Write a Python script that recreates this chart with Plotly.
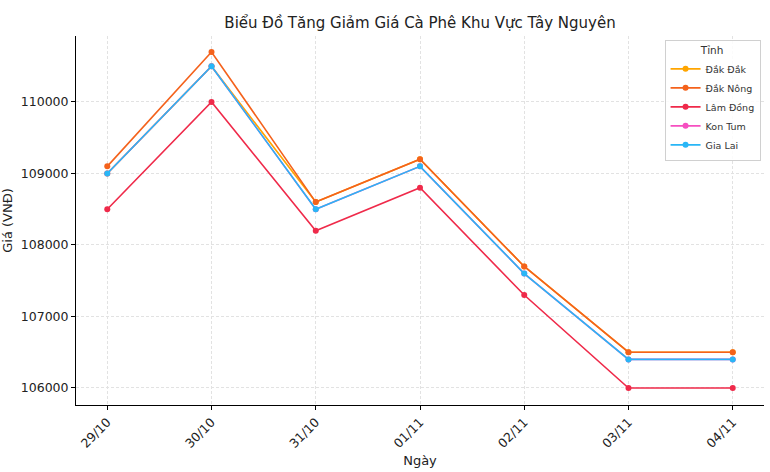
import plotly.graph_objects as go

dates = ["29/10", "30/10", "31/10", "01/11", "02/11", "03/11", "04/11"]
dak_dak = [109000, 110500, 108600, 109200, 107700, 106500, 106500]
dak_nong = [109100, 110700, 108600, 109200, 107700, 106500, 106500]
lam_dong = [108500, 110000, 108200, 108800, 107300, 106000, 106000]
kon_tum = [109000, 110500, 108500, 109100, 107600, 106400, 106400]
gia_lai = [109000, 110500, 108500, 109100, 107600, 106400, 106400]

series = [
    ("Đắk Đắk", dak_dak, "#ffa500"),
    ("Đắk Nông", dak_nong, "#f4621c"),
    ("Lâm Đồng", lam_dong, "#ef2a4a"),
    ("Kon Tum", kon_tum, "#f64fc0"),
    ("Gia Lai", gia_lai, "#29b6f6"),
]

fig = go.Figure()
for name, vals, col in series:
    fig.add_trace(go.Scatter(
        x=list(range(len(dates))), y=vals, name=name, mode="lines+markers",
        line=dict(color=col, width=1.6), marker=dict(color=col, size=6),
    ))

font = "DejaVu Sans"
grid = dict(showgrid=True, gridcolor="#e2e2e2", griddash="3px,2px", gridwidth=0.8)
fig.update_layout(
    width=770, height=472,
    margin=dict(l=73, r=6, t=36, b=67),
    paper_bgcolor="white", plot_bgcolor="white",
    font=dict(family=font, size=12, color="#222"),
    title=dict(text="Biểu Đồ Tăng Giảm Giá Cà Phê Khu Vực Tây Nguyên",
               xref="paper", x=0.5, xanchor="center", y=0.963, yanchor="top",
               font=dict(size=15, color="#222")),
    legend=dict(
        title=dict(text="Tỉnh", side="top center", font=dict(size=10.5, color="#333")),
        x=0.995, xanchor="right", y=0.99, yanchor="top",
        bgcolor="rgba(255,255,255,0.85)", bordercolor="#d0d0d0", borderwidth=1,
        font=dict(size=9.5, color="#333"), itemwidth=30, tracegroupgap=0,
    ),
    xaxis=dict(
        range=[-0.3, 6.3], tickmode="array", tickvals=list(range(len(dates))),
        ticktext=dates, tickangle=-45, tickfont=dict(size=12.5),
        showline=True, linecolor="black", linewidth=1, mirror=False,
        ticks="outside", ticklen=4, tickcolor="black",
        zeroline=False, **grid,
        title=dict(text="Ngày", font=dict(size=13), standoff=6),
    ),
    yaxis=dict(
        range=[105762, 110923], tickvals=[106000, 107000, 108000, 109000, 110000],
        tickformat="d", tickfont=dict(size=12.5),
        showline=True, linecolor="black", linewidth=1, mirror=False,
        ticks="outside", ticklen=4, tickcolor="black",
        zeroline=False, **grid,
        title=dict(text="Giá (VNĐ)", font=dict(size=13), standoff=6),
    ),
)

fig.write_html("out.html")
